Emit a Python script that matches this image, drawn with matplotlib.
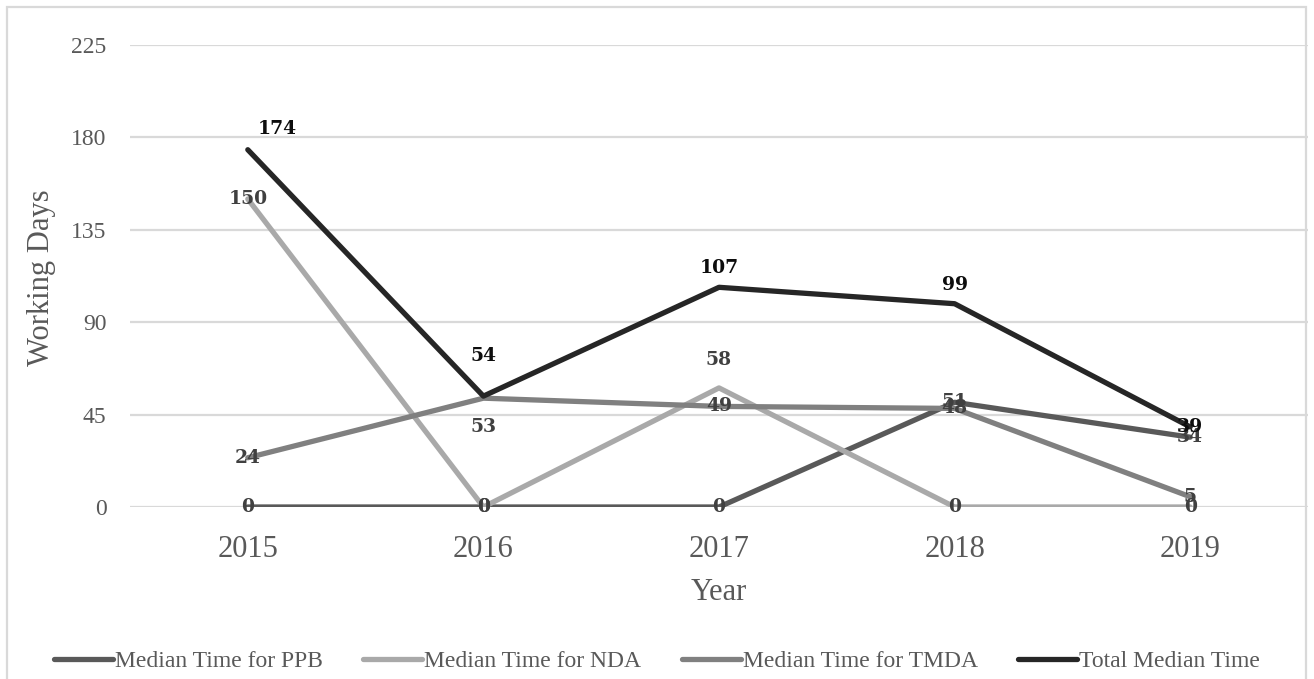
import matplotlib
matplotlib.use("Agg")
import matplotlib.pyplot as plt
from matplotlib.patches import Rectangle

# Chart data
years = ["2015", "2016", "2017", "2018", "2019"]
series_names = ["Median Time for PPB", "Median Time for NDA",
                "Median Time for TMDA", "Total Median Time"]
ppb = [0, 0, 0, 51, 34]
nda = [150, 0, 58, 0, 0]
tmda = [24, 53, 49, 48, 5]
total = [174, 54, 107, 99, 39]
y_ticks = [0, 45, 90, 135, 180, 225]

# Styling
line_colors = ["#595959", "#a9a9a9", "#808080", "#262626"]
label_colors = ["#404040", "#404040", "#404040", "#0d0d0d"]
# Label offsets in pixels (dx, dy) for each series / point
label_offsets = [
    [(0, 0), (0, 0), (0, 0), (0, 0), (0, 0)],
    [(0, 0), (0, 0), (0, 28), (0, 0), (0, 0)],
    [(0, 0), (0, -29), (0, 0), (0, 0), (0, 0)],
    [(29, 21), (0, 40), (0, 19), (0, 19), (0, 0)],
]

W, H = 1314, 679
fig = plt.figure(figsize=(W / 100, H / 100), dpi=100)
fig.patch.set_facecolor("white")

# Chart-area border
fig.patches.append(Rectangle((7 / W, -0.02), (W - 8) / W - 7 / W, 1.02 - 7 / H,
                             transform=fig.transFigure, fill=False,
                             edgecolor="#d9d9d9", linewidth=1.6, zorder=0))

left, right, bottom, top = 130, 1308, 507, 45
ax = fig.add_axes([left / W, (H - bottom) / H, (right - left) / W, (bottom - top) / H])

x = list(range(len(years)))
data = [ppb, nda, tmda, total]
for vals, name, col in zip(data, series_names, line_colors):
    ax.plot(x, vals, color=col, linewidth=3.8, solid_capstyle="round",
            solid_joinstyle="round", label=name, zorder=3)

for vals, col, offs in zip(data, label_colors, label_offsets):
    for xi, v, (dx, dy) in zip(x, vals, offs):
        ax.annotate(str(v), (xi, v), xytext=(dx, dy), textcoords="offset pixels",
                    ha="center", va="center", color=col, fontsize=13.5,
                    fontweight="bold", family="DejaVu Serif", zorder=5)

ax.set_xlim(-0.5, len(years) - 0.5)
ax.set_ylim(0, 225)
ax.set_yticks(y_ticks)
ax.set_xticks(x)
ax.set_xticklabels(years)
ax.grid(axis="y", color="#d9d9d9", linewidth=1.6, zorder=0)
ax.set_axisbelow(True)
for s in ax.spines.values():
    s.set_visible(False)
ax.tick_params(axis="both", length=0)
ax.tick_params(axis="y", pad=17, labelsize=17, labelcolor="#595959")
ax.tick_params(axis="x", pad=20, labelsize=22, labelcolor="#595959")
for lab in ax.get_xticklabels() + ax.get_yticklabels():
    lab.set_family("Liberation Serif")

ax.set_xlabel("Year", fontsize=22, color="#595959", family="Liberation Serif", labelpad=10)
fig.text(42 / W, (H - 278) / H, "Working Days", rotation=90, fontsize=22,
         color="#595959", family="Liberation Serif", ha="center", va="center")

leg = fig.legend(loc="center", bbox_to_anchor=(0.5, (H - 661) / H), ncol=4,
                 frameon=False, handlelength=2.5, handletextpad=0.1,
                 columnspacing=1.7,
                 prop={"family": "Liberation Serif", "size": 17})
for t in leg.get_texts():
    t.set_color("#595959")
for h in leg.get_lines():
    h.set_linewidth(3.8)

fig.savefig("out.png", dpi=100, facecolor="white")
